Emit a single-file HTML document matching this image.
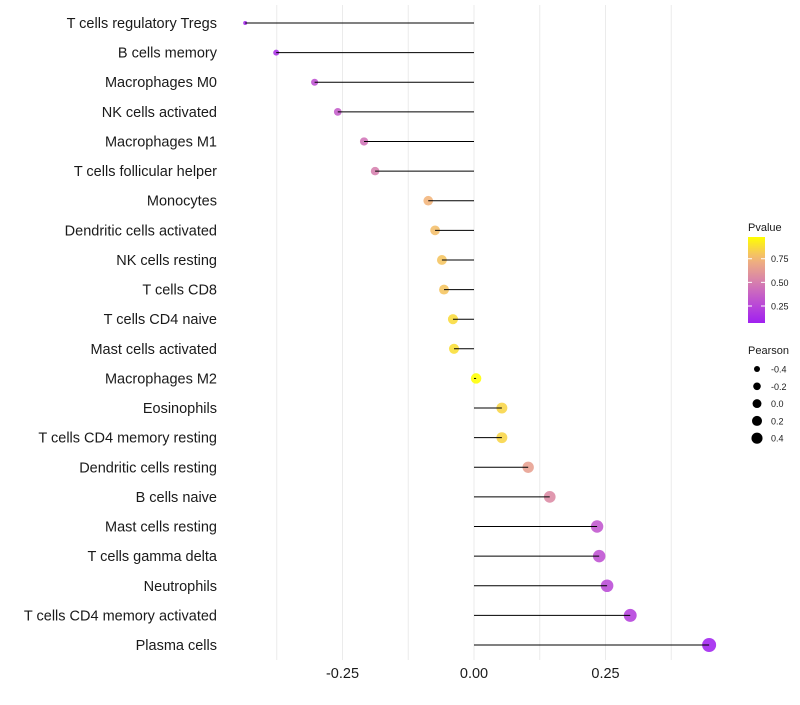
<!DOCTYPE html>
<html><head><meta charset="utf-8"><style>
body{margin:0;background:#fff;font-family:"Liberation Sans",sans-serif}
svg text{font-family:"Liberation Sans",sans-serif}
</style></head><body>
<svg id="chart" width="800" height="700" viewBox="0 0 800 700">
<g id="grid"></g><g id="marks"></g><g id="ylabels"></g><g id="xlabels"></g><g id="legend"></g>
</svg>
<script>
const categories=["T cells regulatory  Tregs","B cells memory","Macrophages M0","NK cells activated","Macrophages M1","T cells follicular helper","Monocytes","Dendritic cells activated","NK cells resting","T cells CD8","T cells CD4 naive","Mast cells activated","Macrophages M2","Eosinophils","T cells CD4 memory resting","Dendritic cells resting","B cells naive","Mast cells resting","T cells gamma delta","Neutrophils","T cells CD4 memory activated","Plasma cells"];
const pearson=[-0.435,-0.376,-0.303,-0.259,-0.209,-0.188,-0.087,-0.074,-0.061,-0.057,-0.040,-0.038,0.004,0.053,0.053,0.103,0.144,0.234,0.238,0.253,0.297,0.447];
const pvalues=[0.10,0.15,0.30,0.35,0.45,0.50,0.75,0.78,0.80,0.80,0.87,0.88,0.99,0.85,0.85,0.65,0.55,0.32,0.30,0.27,0.22,0.08];
const xTicks=[-0.25,0,0.25];
const xTickLabels=["-0.25","0.00","0.25"];
const gridVals=[-0.375,-0.25,-0.125,0,0.125,0.25,0.375];
const pTicks=[0.25,0.5,0.75];
const sizeTicks=[-0.4,-0.2,0.0,0.2,0.4];

const NS="http://www.w3.org/2000/svg";
const X=v=>474+v*526;
const Y=i=>23+i*(622/21);
const R=p=>p<-0.4?2:Math.sqrt(Math.max(4,27.3+48.6*p));
const RL=p=>Math.sqrt(9+27*(p+0.4));
function lerp(a,b,t){return a.map((x,i)=>Math.round(x+(b[i]-x)*t));}
const stops=[[0.07,[160,32,240]],[0.3,[190,80,210]],[0.5,[214,127,174]],[0.75,[242,180,122]],[0.98,[255,255,0]]];
function C(p){p=Math.max(0.07,Math.min(0.98,p));for(let i=0;i<stops.length-1;i++){if(p<=stops[i+1][0]){const t=(p-stops[i][0])/(stops[i+1][0]-stops[i][0]);const c=lerp(stops[i][1],stops[i+1][1],t);return`rgb(${c})`;}}return"rgb(255,255,0)";}
function mk(tag,attrs,parent,txt){const e=document.createElementNS(NS,tag);for(const k in attrs)e.setAttribute(k,attrs[k]);if(txt!==undefined)e.textContent=txt;parent.appendChild(e);return e;}
const grid=document.getElementById('grid'),marks=document.getElementById('marks'),yl=document.getElementById('ylabels'),xl=document.getElementById('xlabels'),lg=document.getElementById('legend');
gridVals.forEach(v=>{const l=mk('line',{x1:X(v),x2:X(v),y1:5,y2:660,stroke:'#ebebeb','stroke-width':1},grid);

});
categories.forEach((c,i)=>{
 const t=mk('text',{x:217,y:Y(i)+5,'text-anchor':'end','font-size':14.5,fill:'#1a1a1a'},yl,c);
 
 
 const d=mk('circle',{cx:X(pearson[i]),cy:Y(i),r:R(pearson[i]),fill:C(pvalues[i]),'fill-opacity':0.88},marks);
 
 
 const l=mk('line',{x1:X(0),x2:X(pearson[i]),y1:Y(i),y2:Y(i),stroke:'#000','stroke-width':1},marks);
 
 
});
xTicks.forEach((v,i)=>{const t=mk('text',{x:X(v),y:678,'text-anchor':'middle','font-size':14.5,fill:'#1a1a1a'},xl,xTickLabels[i]);

});
const defs=mk('defs',{},lg);const g=mk('linearGradient',{id:'pg',x1:0,y1:1,x2:0,y2:0},defs);
for(let k=0;k<=10;k++){const p=0.07+k*0.091;mk('stop',{offset:k/10,'stop-color':C(p)},g);}
const PY=p=>323-(p-0.07)/(0.98-0.07)*86;
const ct=mk('text',{x:748,y:231,'font-size':11,fill:'#1a1a1a'},lg,'Pvalue');


const bar=mk('rect',{x:748,y:237,width:17,height:86,fill:'url(#pg)'},lg);


pTicks.forEach(p=>{mk('line',{x1:748,x2:752,y1:PY(p),y2:PY(p),stroke:'#fff'},lg);mk('line',{x1:761,x2:765,y1:PY(p),y2:PY(p),stroke:'#fff'},lg);
const t=mk('text',{x:771,y:PY(p)+3.5,'font-size':9,fill:'#1a1a1a'},lg,p.toFixed(2));

});
const st=mk('text',{x:748,y:354,'font-size':11,fill:'#1a1a1a'},lg,'Pearson');


sizeTicks.forEach((s,i)=>{const y=369+i*17.3;
const c=mk('circle',{cx:757,cy:y,r:RL(s),fill:'#000'},lg);


const t=mk('text',{x:771,y:y+3.5,'font-size':9,fill:'#1a1a1a'},lg,s.toFixed(1));

});
</script>
</body></html>
